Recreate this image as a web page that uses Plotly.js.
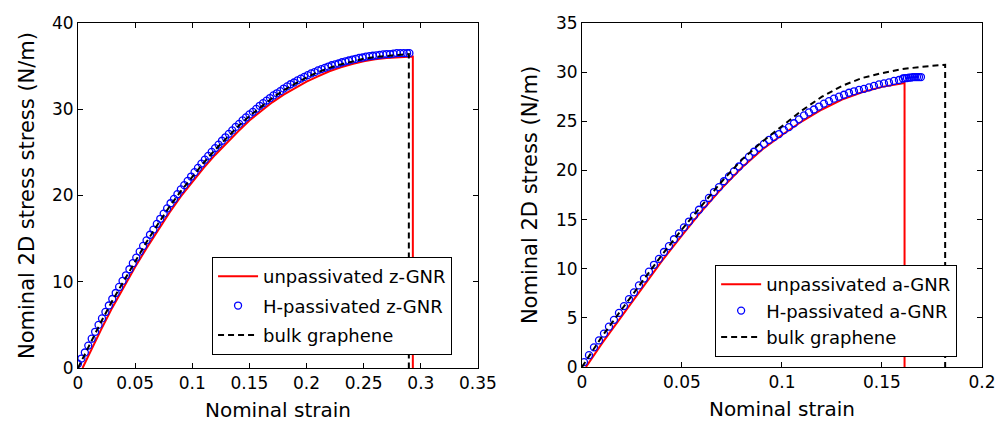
<!DOCTYPE html>
<html>
<head>
<meta charset="utf-8">
<script src="https://cdn.plot.ly/plotly-3.0.1.min.js"></script>
<style>html,body{margin:0;padding:0;background:#fff;}#chart{width:996px;height:424px;}</style>
</head>
<body>
<div id="chart"></div>
<script>
// ---------- Left panel: zigzag GNR ----------
const zRedStrain = [0.004,0.01,0.02,0.03,0.04,0.05,0.06,0.07,0.08,0.09,0.10,0.11,0.12,0.13,0.14,0.15,0.16,0.17,0.18,0.19,0.20,0.21,0.22,0.23,0.24,0.25,0.26,0.27,0.28,0.293,0.293];
const zRedStress = [0,1.7,4.4,7.0,9.4,11.7,13.9,16.0,18.0,19.9,21.6,23.2,24.7,26.1,27.4,28.7,29.8,30.8,31.7,32.5,33.2,33.8,34.4,34.85,35.25,35.55,35.8,35.95,36.05,36.1,0];

const zBlueStrain = [0.000,0.003,0.006,0.009,0.012,0.015,0.018,0.021,0.024,0.027,0.030,0.033,0.036,0.039,0.042,0.045,0.048,0.051,0.054,0.057,0.060,0.063,0.066,0.069,0.072,0.075,0.078,0.081,0.084,0.087,0.090,0.093,0.096,0.099,0.102,0.105,0.108,0.111,0.114,0.117,0.120,0.123,0.126,0.129,0.132,0.135,0.138,0.141,0.144,0.147,0.150,0.153,0.156,0.159,0.162,0.165,0.168,0.171,0.174,0.177,0.180,0.183,0.186,0.189,0.192,0.195,0.198,0.201,0.204,0.207,0.210,0.213,0.216,0.219,0.222,0.225,0.228,0.231,0.234,0.237,0.240,0.243,0.246,0.249,0.252,0.255,0.258,0.261,0.264,0.267,0.270,0.273,0.276,0.279,0.282,0.285,0.288,0.290];
const zBlueStress = [0.5,1.1,1.8,2.6,3.4,4.2,5.0,5.75,6.5,7.25,8.0,8.7,9.4,10.1,10.75,11.45,12.15,12.8,13.5,14.15,14.8,15.45,16.05,16.7,17.3,17.9,18.5,19.1,19.6,20.15,20.7,21.2,21.7,22.2,22.7,23.2,23.7,24.15,24.6,25.05,25.5,25.9,26.35,26.75,27.15,27.55,27.95,28.3,28.7,29.05,29.4,29.7,30.05,30.4,30.7,31.0,31.3,31.6,31.85,32.1,32.4,32.65,32.9,33.1,33.35,33.55,33.75,33.95,34.15,34.3,34.5,34.65,34.8,34.95,35.1,35.2,35.3,35.45,35.55,35.65,35.75,35.85,35.95,36.0,36.1,36.15,36.2,36.25,36.3,36.35,36.4,36.4,36.45,36.5,36.5,36.5,36.5,36.5];

const zBulkStrain = [0,0.01,0.02,0.03,0.04,0.05,0.06,0.07,0.08,0.09,0.10,0.11,0.12,0.13,0.14,0.15,0.16,0.17,0.18,0.19,0.20,0.21,0.22,0.23,0.24,0.25,0.26,0.27,0.28,0.2895,0.2895];
const zBulkStress = [0,2.7,5.3,7.8,10.1,12.4,14.6,16.7,18.7,20.5,22.2,23.8,25.3,26.7,28.0,29.2,30.3,31.3,32.2,33.0,33.7,34.3,34.8,35.2,35.55,35.85,36.05,36.2,36.3,36.4,0];

// ---------- Right panel: armchair GNR ----------
const aRedStrain = [0.002,0.01,0.02,0.03,0.04,0.05,0.06,0.07,0.08,0.09,0.10,0.11,0.12,0.13,0.14,0.15,0.1613,0.1613];
const aRedStress = [0,2.4,5.2,8.0,10.8,13.4,15.9,18.2,20.3,22.1,23.6,25.0,26.2,27.2,27.95,28.5,28.9,0];

const aBlueStrain = [0.0010,0.0035,0.0060,0.0085,0.0110,0.0135,0.0160,0.0185,0.0210,0.0235,0.0260,0.0285,0.0310,0.0335,0.0360,0.0385,0.0410,0.0435,0.0460,0.0485,0.0510,0.0535,0.0560,0.0585,0.0610,0.0635,0.0660,0.0685,0.0710,0.0735,0.0760,0.0785,0.0810,0.0835,0.0860,0.0885,0.0910,0.0935,0.0960,0.0985,0.1010,0.1035,0.1060,0.1085,0.1110,0.1135,0.1160,0.1185,0.1210,0.1235,0.1260,0.1285,0.1310,0.1335,0.1360,0.1385,0.1410,0.1435,0.1460,0.1485,0.1510,0.1535,0.1560,0.1585,0.1605,0.1615,0.1625,0.1635,0.1645,0.1655,0.1665,0.1675,0.1685,0.1695];
const aBlueStress = [0.5,1.2,2.0,2.7,3.4,4.1,4.8,5.5,6.2,6.9,7.6,8.3,9.0,9.7,10.4,11.0,11.7,12.3,13.0,13.6,14.2,14.8,15.4,16.0,16.6,17.2,17.8,18.3,18.9,19.4,19.9,20.4,20.9,21.4,21.9,22.3,22.7,23.1,23.4,23.7,24.1,24.4,24.8,25.2,25.6,25.9,26.2,26.5,26.8,27.05,27.3,27.5,27.7,27.9,28.05,28.2,28.3,28.45,28.6,28.75,28.85,28.95,29.1,29.2,29.35,29.4,29.4,29.45,29.45,29.5,29.5,29.5,29.5,29.5];

const aBulkStrain = [0,0.01,0.02,0.03,0.04,0.05,0.06,0.07,0.08,0.09,0.10,0.11,0.12,0.13,0.14,0.15,0.16,0.17,0.1816,0.1816];
const aBulkStress = [0,3.1,5.9,8.7,11.4,14.0,16.5,18.9,21.1,22.9,24.5,26.1,27.5,28.6,29.4,29.9,30.3,30.55,30.75,0];

// ---------- Labels ----------
const leftNames = ['unpassivated z-GNR','H-passivated z-GNR','bulk graphene'];
const rightNames = ['unpassivated a-GNR','H-passivated a-GNR','bulk graphene'];
const xTitle = 'Nominal strain';
const yTitleLeft = 'Nominal 2D stress stress (N/m)';
const yTitleRight = 'Nominal 2D stress (N/m)';

const FONT = 'DejaVu Sans, Arial, sans-serif';
const redLine = {color:'#ff0000', width:2};
const bulkLine = {color:'#000000', width:2, dash:'6px,4px'};
const blueMarker = {symbol:'circle-open', size:7, color:'#0000ff', line:{width:1.3, color:'#0000ff'}};

const traces = [
  {x:zRedStrain, y:zRedStress, mode:'lines', line:redLine, name:leftNames[0], xaxis:'x', yaxis:'y', legend:'legend', legendgroup:'a'},
  {x:zBlueStrain, y:zBlueStress, mode:'markers', marker:blueMarker, name:leftNames[1], xaxis:'x', yaxis:'y', legend:'legend', legendgroup:'b'},
  {x:zBulkStrain, y:zBulkStress, mode:'lines', line:bulkLine, name:leftNames[2], xaxis:'x', yaxis:'y', legend:'legend', legendgroup:'c'},
  {x:aRedStrain, y:aRedStress, mode:'lines', line:redLine, name:rightNames[0], xaxis:'x2', yaxis:'y2', legend:'legend2', legendgroup:'d'},
  {x:aBlueStrain, y:aBlueStress, mode:'markers', marker:blueMarker, name:rightNames[1], xaxis:'x2', yaxis:'y2', legend:'legend2', legendgroup:'e'},
  {x:aBulkStrain, y:aBulkStress, mode:'lines', line:bulkLine, name:rightNames[2], xaxis:'x2', yaxis:'y2', legend:'legend2', legendgroup:'f'}
];

function axisBase(extra){
  return Object.assign({
    showgrid:false, zeroline:false, showline:true, linecolor:'#000', linewidth:1,
    mirror:'ticks', ticks:'inside', ticklen:5, tickcolor:'#000', tickwidth:1,
    tickfont:{family:FONT, size:17, color:'#000'}
  }, extra);
}

const legendBase = {
  bgcolor:'#ffffff', bordercolor:'#000000', borderwidth:1,
  font:{family:FONT, size:18, color:'#000'},
  xref:'paper', yref:'paper', xanchor:'left', yanchor:'top',
  itemwidth:40, traceorder:'grouped'
};

const layout = {
  width:996, height:424,
  margin:{l:0, r:0, t:0, b:0},
  paper_bgcolor:'#ffffff', plot_bgcolor:'#ffffff',
  font:{family:FONT, color:'#000'},
  showlegend:true,
  xaxis: axisBase({domain:[0.0783,0.4799], range:[0,0.35], dtick:0.05, anchor:'y',
    title:{text:xTitle, font:{family:FONT, size:20, color:'#000'}, standoff:10}}),
  yaxis: axisBase({domain:[0.132,0.9458], range:[0,40], dtick:10, anchor:'x',
    title:{text:yTitleLeft, font:{family:FONT, size:21, color:'#000'}, standoff:11}}),
  xaxis2: axisBase({domain:[0.5843,0.9859], range:[0,0.2], dtick:0.05, anchor:'y2',
    title:{text:xTitle, font:{family:FONT, size:20, color:'#000'}, standoff:10}}),
  yaxis2: axisBase({domain:[0.1344,0.9458], range:[0,35], dtick:5, anchor:'x2',
    title:{text:yTitleRight, font:{family:FONT, size:21, color:'#000'}, standoff:12}}),
  legend: Object.assign({}, legendBase, {x:0.2129, y:0.394, tracegroupgap:3}),
  legend2: Object.assign({}, legendBase, {x:0.718, y:0.375, tracegroupgap:0})
};

Plotly.newPlot('chart', traces, layout, {staticPlot:true, displayModeBar:false});
</script>
</body>
</html>
